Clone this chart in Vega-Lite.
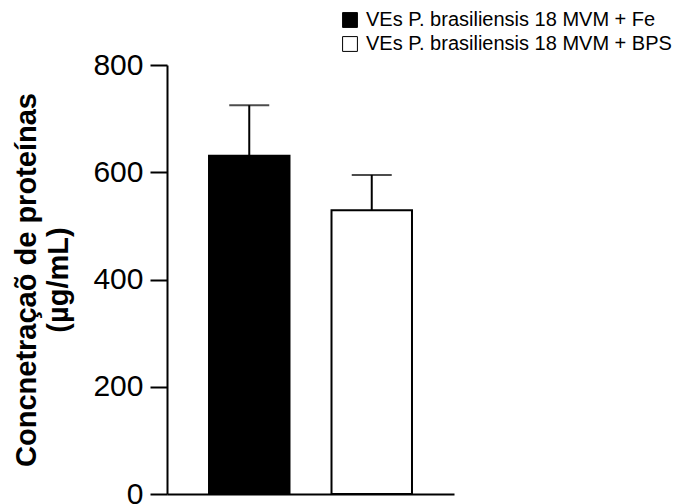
{
  "$schema": "https://vega.github.io/schema/vega-lite/v6.json",
  "autosize": {"type": "none"},
  "width": 287,
  "height": 429,
  "padding": {"left": 167, "top": 65, "right": 220, "bottom": 10},
  "background": "white",
  "config": {
    "view": {"stroke": null},
    "font": "Liberation Sans"
  },
  "data": {
    "values": [
      {"group": "VEs P. brasiliensis 18 MVM + Fe", "mean": 631, "upper": 725},
      {"group": "VEs P. brasiliensis 18 MVM + BPS", "mean": 529, "upper": 595}
    ]
  },
  "encoding": {
    "x": {
      "field": "group",
      "type": "nominal",
      "sort": null,
      "scale": {"paddingInner": 0.343, "paddingOuter": 0.343},
      "axis": {
        "title": null,
        "labels": false,
        "ticks": false,
        "domainColor": "black",
        "domainWidth": 2
      }
    }
  },
  "layer": [
    {
      "mark": {"type": "bar", "stroke": "black", "strokeWidth": 2},
      "encoding": {
        "y": {
          "field": "mean",
          "type": "quantitative",
          "scale": {"domain": [0, 800], "nice": false},
          "axis": {
            "values": [0, 200, 400, 600, 800],
            "grid": false,
            "domainColor": "black",
            "domainWidth": 2,
            "tickColor": "black",
            "tickWidth": 2,
            "tickSize": 17,
            "labelFont": "Liberation Sans",
            "labelFontSize": 30,
            "labelColor": "black",
            "labelPadding": 7,
            "title": ["Concnetraçaõ de proteínas", "(µg/mL)"],
            "titleFont": "Liberation Sans",
            "titleFontSize": 29,
            "titleFontWeight": "bold",
            "titleColor": "black",
            "titleLineHeight": 32,
            "titlePadding": 19
          }
        },
        "fill": {
          "field": "group",
          "type": "nominal",
          "sort": null,
          "scale": {
            "domain": ["VEs P. brasiliensis 18 MVM + Fe", "VEs P. brasiliensis 18 MVM + BPS"],
            "range": ["black", "white"]
          },
          "legend": {
            "title": null,
            "orient": "none",
            "legendX": 173,
            "legendY": -55,
            "symbolType": "square",
            "symbolSize": 220,
            "symbolStrokeColor": "black",
            "symbolStrokeWidth": 1,
            "labelFont": "Liberation Sans",
            "labelFontSize": 20,
            "labelColor": "black",
            "labelOffset": 6,
            "rowPadding": 4,
            "labelLimit": 400
          }
        }
      }
    },
    {
      "mark": {"type": "rule", "color": "black", "strokeWidth": 2},
      "encoding": {
        "y": {"field": "mean", "type": "quantitative"},
        "y2": {"field": "upper"}
      }
    },
    {
      "mark": {"type": "tick", "color": "black", "thickness": 2, "size": 40},
      "encoding": {
        "y": {"field": "upper", "type": "quantitative"}
      }
    }
  ]
}
